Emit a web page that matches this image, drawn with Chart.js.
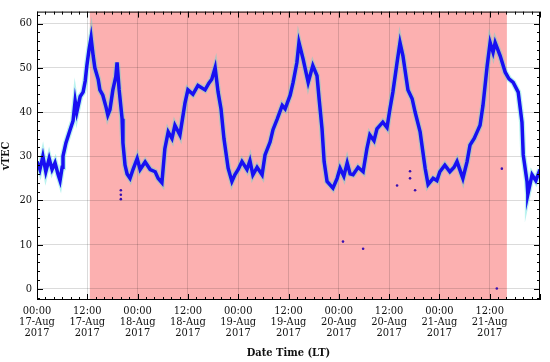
<!DOCTYPE html>
<html>
<head>
<meta charset="utf-8">
<script src="https://cdn.jsdelivr.net/npm/chart.js@4.4.1/dist/chart.umd.min.js"></script>
<style>
  html, body { margin: 0; padding: 0; background: #fff; }
  #wrap { width: 550px; height: 362px; }
</style>
</head>
<body>
<div id="wrap"><canvas id="tec"></canvas></div>
<script>
// hours since 17-Aug-2017 00:00 LT
const hours = [
    0, 0.7, 1.4, 2.1, 2.9, 3.6, 4.3, 5.0, 5.5, 6.0, 6.2, 6.9, 7.9, 8.6, 9.1, 9.5, 10.3, 11.0, 11.5, 11.9,
    12.4, 12.9, 13.4, 13.8, 14.6, 15.0, 15.7, 16.5, 16.9, 17.4, 18.1, 18.8, 19.1, 19.6, 20.3, 20.5, 21.0, 21.5, 22.2, 22.9,
    23.9, 24.6, 25.8, 27.0, 28.2, 28.9, 29.8, 30.5, 31.3, 32.2, 32.9, 34.1, 35.3, 36.0, 37.2, 38.4, 40.1, 41.0, 41.7, 42.5,
    43.2, 43.9, 44.6, 45.6, 46.5, 47.2, 48.0, 48.9, 50.1, 50.8, 51.5, 52.5, 53.7, 54.4, 55.6, 56.3, 57.3, 58.5, 59.2, 60.4,
    61.1, 62.0, 62.5, 63.5, 64.7, 65.8, 66.8, 67.3, 68.0, 68.5, 69.2, 70.6, 71.6, 72.3, 73.2, 74.0, 74.7, 75.4, 76.6, 77.8,
    78.7, 79.4, 80.4, 81.1, 82.5, 83.5, 84.2, 84.9, 85.9, 86.6, 87.3, 88.5, 89.5, 90.2, 91.4, 92.6, 93.3, 94.5, 95.4, 96.1,
    97.3, 98.5, 99.5, 100.2, 101.6, 102.6, 103.3, 104.3, 105.0, 105.7, 106.4, 107.4, 108.1, 108.8, 109.3, 110.5, 111.7, 112.6, 113.6, 114.8,
    115.7, 116.0, 116.9, 117.1, 118.1, 119.0, 120
];
const vtec = [
    28.8, 27, 30, 26.5, 29.5, 27, 28.5, 26, 24.5, 27.5, 30, 33, 36, 38, 42.5, 40, 43.5, 44.5, 47, 50.5,
    54, 56.8, 52.7, 50, 47.4, 45, 43.8, 41, 39.3, 40.5, 45, 48, 51.2, 45, 38.5, 33, 28, 26, 25, 27,
    29.5, 27, 28.7, 27, 26.5, 25, 24, 31.7, 35.5, 34, 37, 34.8, 42, 45, 44, 46, 45, 46.5, 47.4, 50,
    44.5, 40.7, 34, 27.3, 24.3, 25.8, 27, 28.8, 27, 29, 25.8, 27.5, 25.8, 30.3, 33.2, 36, 38.4, 41.5, 40.7, 43.8,
    46.7, 51.2, 55.7, 51.9, 46.7, 50.5, 48.2, 43, 36.2, 28.8, 24.3, 22.8, 25, 27.3, 25.5, 28.5, 26, 25.8, 27.5, 26.5,
    31.7, 34.8, 33.5, 36.2, 37.7, 36.5, 40.7, 44.5, 51.2, 55.7, 52.7, 45, 43, 40, 35.5, 27.3, 23.6, 25, 24.5, 26.5,
    28, 26.5, 27.5, 28.8, 25, 28.8, 32.5, 34, 35.5, 37, 41.5, 50.5, 55.7, 53.5, 55.7, 52.7, 49, 47.5, 46.7, 44.5,
    37.7, 30.3, 24.3, 21.4, 25.8, 24.5, 27
];
// isolated samples away from the main trace
const outlierHours = [20.0, 20.0, 20.0, 73.0, 77.8, 85.9, 89.0, 89.0, 90.2, 109.7, 110.9];
const outlierVtec  = [20.3, 21.3, 22.3, 10.7, 9.1, 23.4, 25.0, 26.6, 22.3, 0.1, 27.2];

const shadeStart = 12.6;   // shaded interval, hours
const shadeEnd = 112.1;
const xTicks = [0, 12, 24, 36, 48, 60, 72, 84, 96, 108];
const yTicks = [0, 10, 20, 30, 40, 50, 60];
const months = ['Aug'];

const serif = "'DejaVu Serif Condensed', 'DejaVu Serif', serif";

const frame = {
    id: 'frame',
    beforeDraw(chart) {
        const { ctx, chartArea: a, scales: { x } } = chart;
        const x0 = x.getPixelForValue(shadeStart);
        const x1 = x.getPixelForValue(shadeEnd);
        ctx.save();
        ctx.fillStyle = 'rgba(246, 0, 0, 0.31)';
        ctx.fillRect(x0, a.top, x1 - x0, a.bottom - a.top);
        ctx.restore();
    },
    afterDraw(chart) {
        const { ctx, chartArea: a, scales: { x, y } } = chart;
        ctx.save();
        ctx.strokeStyle = '#000';
        ctx.lineWidth = 1;
        ctx.strokeRect(a.left + 0.5, a.top + 0.5, a.right - a.left - 1, a.bottom - a.top - 1);
        ctx.beginPath();
        for (let h = 0; h <= 120; h += 2) {
            const px = Math.round(x.getPixelForValue(h)) + 0.5;
            const len = h % 12 === 0 ? 6 : 3;
            ctx.moveTo(px, a.bottom); ctx.lineTo(px, a.bottom - len);
            ctx.moveTo(px, a.top); ctx.lineTo(px, a.top + len);
        }
        for (let v = -2; v <= 62; v += 2) {
            const py = Math.round(y.getPixelForValue(v)) + 0.5;
            const len = v % 10 === 0 ? 6 : 3;
            ctx.moveTo(a.left, py); ctx.lineTo(a.left + len, py);
            ctx.moveTo(a.right, py); ctx.lineTo(a.right - len, py);
        }
        ctx.stroke();
        ctx.restore();
    }
};

const ctx = document.getElementById('tec').getContext('2d');
new Chart(ctx, {
    data: {
        datasets: [{
            type: 'line',
            order: 3,
            data: hours.map((h, i) => ({ x: h, y: vtec[i] })),
            borderColor: 'rgba(60, 220, 210, 0.35)',
            borderWidth: 6,
            pointRadius: 0,
            tension: 0
        }, {
            type: 'line',
            order: 2,
            data: hours.map((h, i) => ({ x: h, y: vtec[i] })),
            borderColor: '#1810f2',
            borderWidth: 3.5,
            pointRadius: 0,
            tension: 0
        }, {
            type: 'scatter',
            order: 1,
            data: outlierHours.map((h, i) => ({ x: h, y: outlierVtec[i] })),
            backgroundColor: '#3a10b0',
            borderWidth: 0,
            pointRadius: 1.3
        }]
    },
    options: {
        responsive: true,
        maintainAspectRatio: false,
        animation: false,
        layout: { padding: { top: 8, right: 10, left: 0, bottom: 0 } },
        plugins: {
            legend: { display: false },
            tooltip: { enabled: false }
        },
        scales: {
            x: {
                type: 'linear',
                min: 0,
                max: 120,
                afterBuildTicks: s => { s.ticks = xTicks.map(v => ({ value: v })); },
                afterFit: s => { s.height = 62; },
                grid: { color: 'rgba(0, 0, 0, 0.14)', drawTicks: false },
                border: { display: false },
                ticks: {
                    padding: 6,
                    maxRotation: 0,
                    autoSkip: false,
                    color: '#111',
                    font: { family: serif, size: 11, lineHeight: 1.0 },
                    callback: function (value) {
                        const day = 17 + Math.floor(value / 24);
                        const hh = value % 24 === 0 ? '00:00' : '12:00';
                        return [hh, day + '-' + months[0], '2017'];
                    }
                },
                title: {
                    display: true,
                    text: 'Date Time (LT)',
                    color: '#111',
                    padding: { top: 2, bottom: 2 },
                    font: { family: serif, size: 11, weight: 'bold' }
                }
            },
            y: {
                type: 'linear',
                min: -2.5,
                max: 62.7,
                afterBuildTicks: s => { s.ticks = yTicks.map(v => ({ value: v })); },
                afterFit: s => { s.width = 37; },
                grid: { color: 'rgba(0, 0, 0, 0.14)', drawTicks: false },
                border: { display: false },
                ticks: {
                    padding: 5,
                    color: '#111',
                    font: { family: serif, size: 11 }
                },
                title: {
                    display: true,
                    text: 'vTEC',
                    color: '#111',
                    padding: { top: 0, bottom: 2 },
                    font: { family: serif, size: 11, weight: 'bold' }
                }
            }
        }
    },
    plugins: [frame]
});
</script>
</body>
</html>
